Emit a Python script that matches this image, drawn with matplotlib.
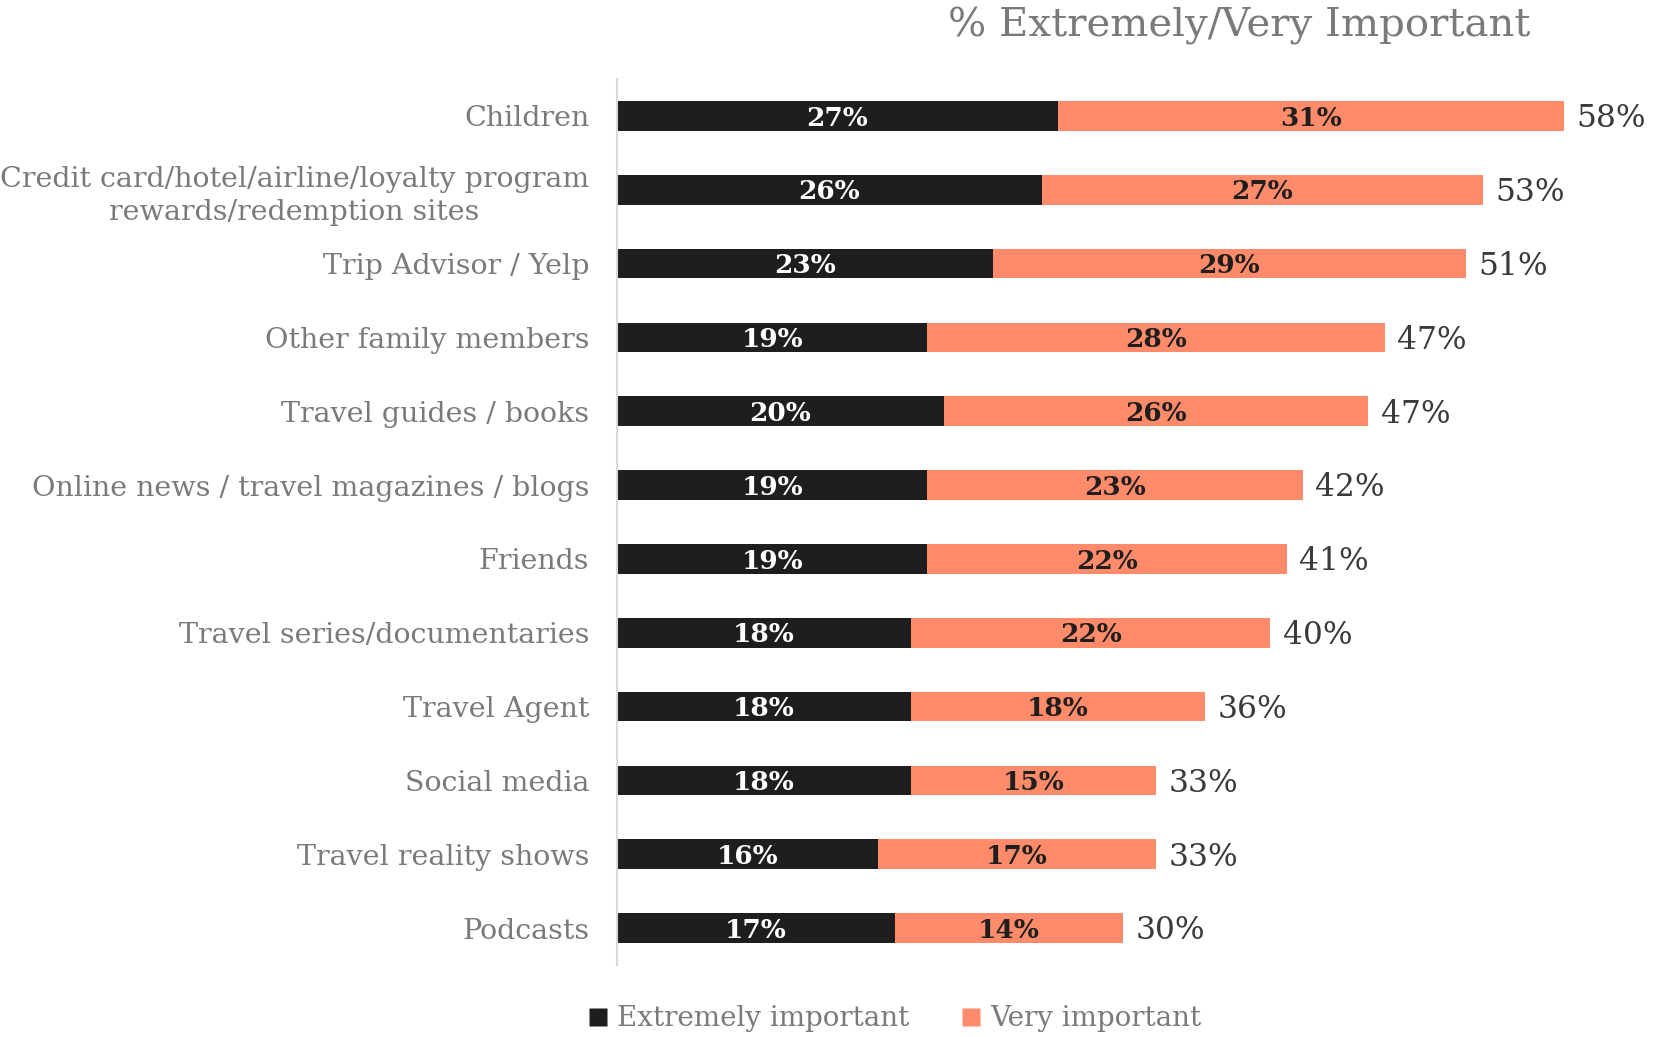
import matplotlib
matplotlib.use("Agg")
import matplotlib.pyplot as plt
from matplotlib.lines import Line2D

categories = [
    "Children",
    "Credit card/hotel/airline/loyalty program\nrewards/redemption sites",
    "Trip Advisor / Yelp",
    "Other family members",
    "Travel guides / books",
    "Online news / travel magazines / blogs",
    "Friends",
    "Travel series/documentaries",
    "Travel Agent",
    "Social media",
    "Travel reality shows",
    "Podcasts",
]
extremely = [27, 26, 23, 19, 20, 19, 19, 18, 18, 18, 16, 17]
very = [31, 27, 29, 28, 26, 23, 22, 22, 18, 15, 17, 14]
totals = [58, 53, 51, 47, 47, 42, 41, 40, 36, 33, 33, 30]

series_names = ["Extremely important", "Very important"]
title = "% Extremely/Very Important"

BLACK = "#1e1e1e"
ORANGE = "#ff8b6a"
GREY_TXT = "#7a7a7a"
DARK_TXT = "#3a3a3a"
FONT = "DejaVu Serif"

plt.rcParams["font.family"] = FONT

fig = plt.figure(figsize=(16.54, 10.37), dpi=100)
ax = fig.add_axes([617 / 1654, 72 / 1037, 1 - 617 / 1654, (965 - 79) / 1037])

y = list(range(len(categories)))
h = 0.4
ax.barh(y, extremely, height=h, color=BLACK, edgecolor="none")
ax.barh(y, very, left=extremely, height=h, color=ORANGE, edgecolor="none")

for i in y:
    e, v, t = extremely[i], very[i], totals[i]
    ax.text(e / 2, i + 0.03, f"{e}%", ha="center", va="center", color="white",
            fontsize=19, fontweight="bold")
    ax.text(e + v / 2, i + 0.03, f"{v}%", ha="center", va="center", color=BLACK,
            fontsize=19, fontweight="bold")
    ax.annotate(f"{t}%", xy=(e + v, i), xytext=(9, -2), textcoords="offset points",
                ha="left", va="center", color=DARK_TXT, fontsize=22.5,
                annotation_clip=False)

ax.set_ylim(len(categories) - 0.5, -0.5)
ax.set_xlim(0, 63.5)
ax.set_yticks(y)
ax.set_yticklabels(categories, fontsize=20.5, color=GREY_TXT)
for lbl in ax.get_yticklabels():
    lbl.set_multialignment("center")
    lbl.set_linespacing(1.3)
ax.tick_params(axis="y", length=0, pad=20)
ax.set_xticks([])
for side in ("top", "right", "bottom"):
    ax.spines[side].set_visible(False)
ax.spines["left"].set_color("#d9d9d9")
ax.spines["left"].set_linewidth(1.5)

fig.text(1239 / 1654, 1 - 26 / 1037, title, ha="center", va="center",
         fontsize=29, color=GREY_TXT)

handles = [
    Line2D([], [], marker="s", linestyle="none", markersize=13,
           markerfacecolor=BLACK, markeredgecolor="none"),
    Line2D([], [], marker="s", linestyle="none", markersize=13,
           markerfacecolor=ORANGE, markeredgecolor="none"),
]
leg = fig.legend(handles, series_names, loc="center", ncol=2,
                 bbox_to_anchor=(894 / 1654, 18 / 1037), frameon=False,
                 fontsize=20, handlelength=0.8, handletextpad=0.3,
                 columnspacing=1.8, borderaxespad=0)
for txt in leg.get_texts():
    txt.set_color(GREY_TXT)

fig.savefig("out.png", dpi=100)
